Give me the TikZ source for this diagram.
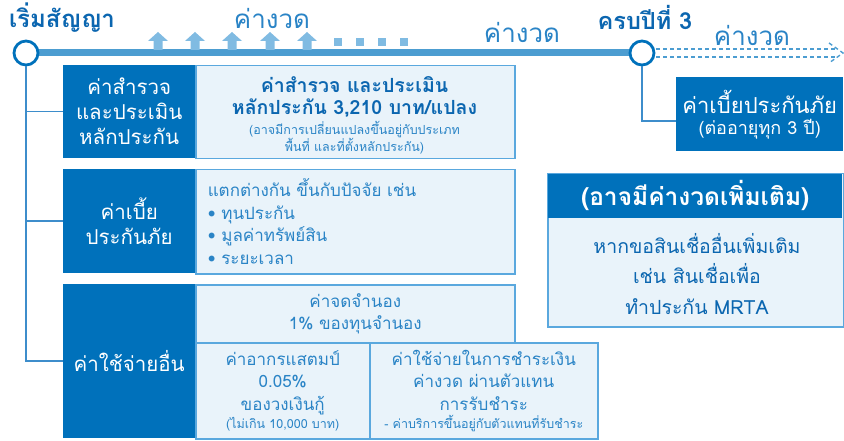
\documentclass[tikz,border=0pt]{standalone}
\usepackage{fontspec}
\setmainfont{Loma}[Script=Thai]
\definecolor{dkblue}{HTML}{0071BB}
\definecolor{titleblue}{HTML}{0B66B0}
\definecolor{medtext}{HTML}{2A84C6}
\definecolor{ltfill}{HTML}{E9F3FA}
\definecolor{ltline}{HTML}{5AA8DE}
\definecolor{tlblue}{HTML}{4C9DD1}
\definecolor{arrowc}{HTML}{80BBE2}
\definecolor{connc}{HTML}{3D8DCB}
\newcommand{\fbig}{\fontsize{20.5}{25}\selectfont}
\newcommand{\fmed}{\fontsize{17}{22.5}\selectfont}
\newcommand{\fsm}{\fontsize{12.5}{17}\selectfont}
\newcommand{\fttl}{\fontsize{24}{27}\selectfont}
\newcommand{\fpay}{\fontsize{26}{28}\selectfont}
\tikzset{
  darkbox/.style={fill=dkblue, draw=none, text=white, align=center, font=\fbig, inner sep=0pt, anchor=north west},
  lightbox/.style={fill=ltfill, draw=ltline, line width=1.5pt, align=center, text=medtext, font=\fmed, inner sep=0pt, anchor=north west},
  conn/.style={draw=connc, line width=1.6pt},
  tcircle/.style={circle, draw=dkblue, line width=2.8pt, fill=white, minimum size=24pt, inner sep=0pt},
  dashln/.style={draw=tlblue, line width=1.4pt, dash pattern=on 4pt off 3pt},
}
\begin{document}
\begin{tikzpicture}[x=1pt,y=-1pt]
\useasboundingbox (0,0) rectangle (844,441);
% timeline
\coordinate (p1) at (26,53);
\coordinate (p2) at (642,53);
\coordinate (tip) at (843,53);
\draw[draw=tlblue, line width=7pt] (p1) -- (p2);
\draw[dashln] ([yshift=4pt]p2) -- ([xshift=-6pt,yshift=4pt]tip);
\draw[dashln] ([yshift=-4pt]p2) -- ([xshift=-6pt,yshift=-4pt]tip);
\draw[dashln] ([xshift=-14pt,yshift=10pt]tip) -- (tip) -- ([xshift=-14pt,yshift=-10pt]tip);
% up arrows
\foreach \x in {158,195,232,270,307}{
  \fill[arrowc] (\x-4.5,50) -- (\x-4.5,41) -- (\x-10,41) -- (\x,32) -- (\x+10,41) -- (\x+4.5,41) -- (\x+4.5,50) -- cycle;
}
\foreach \x in {338,360,382,404}{
  \fill[arrowc] (\x-4,38) rectangle (\x+4,46);
}
\node[tcircle] (c1) at (p1) {};
\node[tcircle] (c2) at (p2) {};
% top labels
\node[font=\fttl\bfseries, text=titleblue] (t1) at (62,18) {เริ่มสัญญา};
\node[font=\fpay, text=medtext] (t2) at (272,18) {ค่างวด};
\node[font=\fpay, text=medtext] (t3) at (522,32) {ค่างวด};
\node[font=\fontsize{23.5}{27}\selectfont\bfseries, text=titleblue] (t4) at (645,17) {ครบปีที่ 3};
\node[font=\fpay, text=medtext] (t5) at (752,35) {ค่างวด};
% box 1
\node[darkbox, minimum width=132pt, minimum height=93pt] (b1l) at (63,65) {ค่าสำรวจ\\และประเมิน\\หลักประกัน};
\node[lightbox, minimum width=319pt, minimum height=93pt] (b1r) at (195,65) {};
\node[align=center, text=medtext, inner sep=0pt, font=\fontsize{19.5}{22.5}\selectfont] (b1t) at (354.5,115.5)
 {\textcolor{titleblue}{\bfseries ค่าสำรวจ และประเมิน}\\\textcolor{titleblue}{\bfseries หลักประกัน 3,210 บาท/แปลง}\\[-3pt]
  {\fsm (อาจมีการเปลี่ยนแปลงขึ้นอยู่กับประเภท}\\[-5pt]{\fsm พื้นที่ และที่ตั้งหลักประกัน)}};
% box 2
\node[darkbox, minimum width=132pt, minimum height=104pt] (b2l) at (63,169) {ค่าเบี้ย\\ประกันภัย};
\node[lightbox, minimum width=319pt, minimum height=104pt, align=left, text width=295pt, inner xsep=12pt] (b2r) at (195,169)
 {แตกต่างกัน ขึ้นกับปัจจัย เช่น\\• ทุนประกัน\\• มูลค่าทรัพย์สิน\\• ระยะเวลา};
% box 3
\node[darkbox, minimum width=132pt, minimum height=154pt] (b3l) at (63,284) {ค่าใช้จ่ายอื่น};
\node[lightbox, minimum width=319pt, minimum height=58pt] (b3t) at (195,284) {ค่าจดจำนอง\\1\% ของทุนจำนอง};
\node[lightbox, minimum width=174pt, minimum height=96pt] (b3a) at (195,342)
 {ค่าอากรแสตมป์\\0.05\%\\ของวงเงินกู้\\[-4pt]{\fsm (ไม่เกิน 10,000 บาท)}};
\node[lightbox, minimum width=228pt, minimum height=96pt] (b3b) at (369,342)
 {ค่าใช้จ่ายในการชำระเงิน\\ค่างวด ผ่านตัวแทน\\การรับชำระ\\[-4pt]{\fsm - ค่าบริการขึ้นอยู่กับตัวแทนที่รับชำระ}};
% right boxes
\node[darkbox, minimum width=167pt, minimum height=74pt, font=\fontsize{22}{25}\selectfont] (rb) at (676,77)
 {ค่าเบี้ยประกันภัย\\[-4pt]{\fontsize{18}{22}\selectfont (ต่ออายุทุก 3 ปี)}};
\node[lightbox, minimum width=296pt, minimum height=153pt] (rbd) at (547,173) {};
\node[darkbox, minimum width=294.5pt, minimum height=44pt, font=\fontsize{24.5}{27}\selectfont\bfseries] (rh) at (547.75,173.75) {(อาจมีค่างวดเพิ่มเติม)};
\node[align=center, text=titleblue, font=\fontsize{19.5}{30.5}\selectfont, inner sep=0pt] (rbt) at (697,274)
 {หากขอสินเชื่ออื่นเพิ่มเติม\\เช่น สินเชื่อเพื่อ\\ทำประกัน MRTA};
% connectors
\coordinate (rbj) at (676,121);
\draw[conn] (c1.south) |- (b1l.west);
\draw[conn] (c1.south) |- (b2l.west);
\draw[conn] (c1.south) |- (b3l.west);
\draw[conn] (c2.south) |- (rbj);
\end{tikzpicture}
\end{document}
